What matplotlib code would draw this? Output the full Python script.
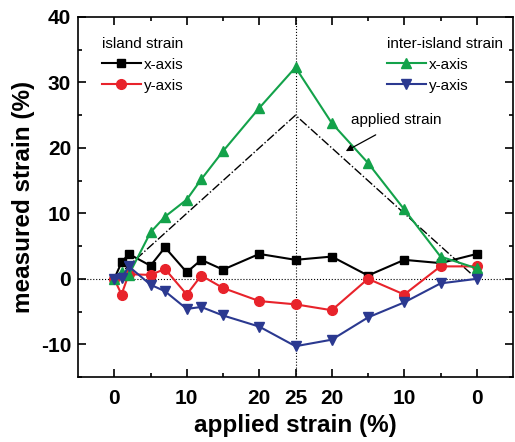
import matplotlib
matplotlib.use("Agg")
import matplotlib.pyplot as plt
from matplotlib.ticker import FixedLocator, FixedFormatter, MultipleLocator

plt.rcParams["font.family"] = ["Liberation Sans", "DejaVu Sans"]
plt.rcParams["axes.unicode_minus"] = False

# path coordinate: strain goes 0 -> 25 (loading) then back 25 -> 0 (unloading), plotted as 0..50
path = [0, 1, 2, 5, 7, 10, 12, 15, 20, 25, 30, 35, 40, 45, 50]

island_x = [0, 2.5, 3.8, 2.0, 4.8, 1.0, 2.9, 1.4, 3.8, 2.9, 3.4, 0.5, 2.9, 2.4, 3.8]
island_y = [0, -2.4, 0.7, 0.6, 1.5, -2.4, 0.5, -1.4, -3.4, -3.9, -4.8, 0.0, -2.4, 1.9, 1.9]
inter_x = [0, 1.1, 0.6, 7.1, 9.5, 12.1, 15.2, 19.5, 26.1, 32.3, 23.8, 17.7, 10.6, 3.4, 1.6]
inter_y = [0, 0.1, 1.9, -0.9, -1.9, -4.6, -4.3, -5.6, -7.3, -10.3, -9.3, -5.9, -3.6, -0.7, 0.0]

applied_path = [0, 25, 50]
applied = [0, 25, 0]

tick_pos = [0, 10, 20, 25, 30, 40, 50]
tick_labels = ["0", "10", "20", "25", "20", "10", "0"]

fig = plt.figure(figsize=(5.15, 4.42), dpi=100)
ax = fig.add_axes([78 / 515, 65 / 442, 435 / 515, 360 / 442])

ax.axhline(0, color="black", lw=0.8, ls=":", zorder=1)
ax.axvline(25, color="black", lw=0.8, ls=":", zorder=1)

ax.plot(applied_path, applied, color="black", lw=1.0, ls="-.", zorder=2)

ms = 7
l1, = ax.plot(path, island_x, color="black", marker="s", ms=ms - 1, lw=1.5, label="x-axis", zorder=3)
l2, = ax.plot(path, island_y, color="#e8232b", marker="o", ms=ms, lw=1.5, label="y-axis", zorder=3)
l3, = ax.plot(path, inter_x, color="#13a24a", marker="^", ms=ms, lw=1.5, label="x-axis", zorder=3)
l4, = ax.plot(path, inter_y, color="#2b3990", marker="v", ms=ms, lw=1.5, label="y-axis", zorder=3)

ax.text(32.6, 24.3, "applied strain", fontsize=11, ha="left", va="center")
ax.annotate("", xy=(31.6, 19.3), xytext=(36.4, 22.2),
            arrowprops=dict(arrowstyle="-|>", color="black", lw=0.9, mutation_scale=10))

ax.set_xlim(-5, 55)
ax.set_ylim(-15, 40)

ax.xaxis.set_major_locator(FixedLocator(tick_pos))
ax.xaxis.set_major_formatter(FixedFormatter(tick_labels))
ax.xaxis.set_minor_locator(FixedLocator([5, 15, 35, 45]))
ax.yaxis.set_major_locator(MultipleLocator(10))
ax.yaxis.set_minor_locator(MultipleLocator(5))

ax.tick_params(which="both", direction="in", top=True, right=True, width=1.2)
ax.tick_params(which="major", length=6, labelsize=15)
ax.tick_params(axis="x", which="major", pad=9)
ax.tick_params(axis="y", which="major", pad=5)
ax.tick_params(which="minor", length=3)
for lab in ax.get_xticklabels() + ax.get_yticklabels():
    lab.set_fontweight("bold")
for sp in ax.spines.values():
    sp.set_linewidth(1.2)

ax.set_xlabel("applied strain (%)", fontsize=17.5, fontweight="bold", labelpad=4)
ax.set_ylabel("measured strain (%)", fontsize=17.5, fontweight="bold", labelpad=4)

leg_kw = dict(frameon=False, fontsize=11, title_fontsize=11, handlelength=2.6,
              handletextpad=0.2, labelspacing=0.45, borderaxespad=0)
leg1 = ax.legend(handles=[l1, l2], title="island strain", loc="upper left",
                 bbox_to_anchor=(0.04, 0.962), **leg_kw)
leg1._legend_box.align = "left"
ax.add_artist(leg1)
leg2 = ax.legend(handles=[l3, l4], title="inter-island strain", loc="upper right",
                 bbox_to_anchor=(0.99, 0.962), **leg_kw)
leg2._legend_box.align = "left"

fig.savefig("out.png", dpi=100)
